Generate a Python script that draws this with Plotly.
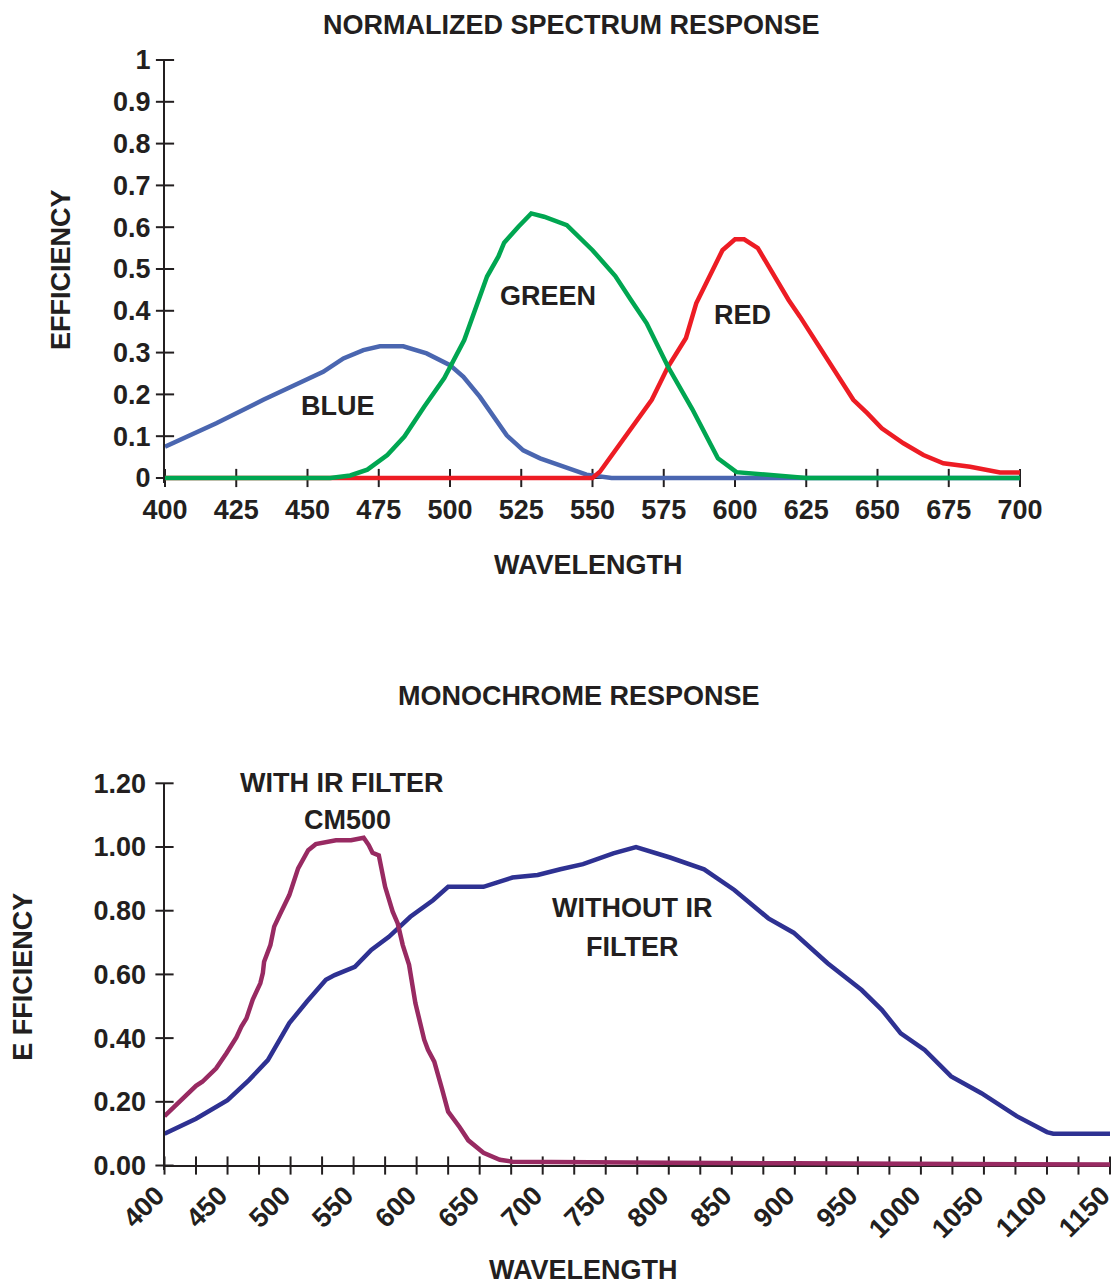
import plotly.graph_objects as go

# ---------------- DATA: Normalized spectrum response ----------------
TOP_X_TICKS = [400, 425, 450, 475, 500, 525, 550, 575, 600, 625, 650, 675, 700]
TOP_Y_TICKS = [0, 0.1, 0.2, 0.3, 0.4, 0.5, 0.6, 0.7, 0.8, 0.9, 1]
TOP_Y_LABELS = ["0", "0.1", "0.2", "0.3", "0.4", "0.5", "0.6", "0.7", "0.8", "0.9", "1"]

BLUE_NM = [400, 418, 434.5, 448.5, 455.5, 462.6, 469.6, 475.4, 483.6, 491.8, 500, 504.7,
           510.5, 519.9, 525.7, 531.6, 540.9, 547.9, 556.7, 575, 600, 625, 650, 675, 700]
BLUE_EFF = [0.075, 0.131, 0.187, 0.23, 0.254, 0.286, 0.306, 0.315, 0.315, 0.298, 0.27, 0.242,
            0.194, 0.102, 0.066, 0.047, 0.025, 0.008, 0, 0, 0, 0, 0, 0, 0]

GREEN_NM = [400, 425, 450, 458, 465, 471, 478, 484, 491, 498, 505, 510, 513, 517, 519, 524,
            528.5, 533, 539, 541, 550, 558, 563.5, 569, 576.5, 585, 594, 600.5, 625, 650, 675, 700]
GREEN_EFF = [0, 0, 0, 0, 0.006, 0.02, 0.055, 0.099, 0.171, 0.239, 0.33, 0.426, 0.482, 0.53,
             0.563, 0.601, 0.633, 0.625, 0.611, 0.605, 0.545, 0.483, 0.426, 0.37, 0.266, 0.165,
             0.047, 0.014, 0, 0, 0, 0]

RED_NM = [400, 425, 450, 475, 500, 525, 550, 552.6, 565.5, 570.8, 576.5, 582.8, 586.4, 595.6,
          600, 603.2, 608, 618.8, 622.8, 635.3, 641.5, 646.4, 651.5, 659.1, 666.1, 673.1,
          682.5, 693, 700]
RED_EFF = [0, 0, 0, 0, 0, 0, 0, 0.015, 0.135, 0.187, 0.266, 0.335, 0.418, 0.545, 0.571, 0.571,
           0.55, 0.426, 0.386, 0.25, 0.187, 0.155, 0.119, 0.083, 0.055, 0.035, 0.027, 0.013, 0.013]

# ---------------- DATA: Monochrome response ----------------
BOT_X_TICKS = list(range(400, 1151, 25))
BOT_X_LABEL_VALS = list(range(400, 1151, 50))
BOT_Y_TICKS = [0, 0.2, 0.4, 0.6, 0.8, 1.0, 1.2]

WITHOUT_NM = [400, 425, 450, 467, 482, 499, 513, 528, 535, 551, 564, 578, 595, 613, 625, 653,
              676, 696, 714, 732, 756, 774, 801, 820, 828, 852, 879, 899, 926, 953, 969, 984,
              1003, 1024, 1048, 1076, 1100, 1105, 1150]
WITHOUT_EFF = [0.10, 0.147, 0.205, 0.268, 0.331, 0.447, 0.515, 0.583, 0.598, 0.624, 0.677,
               0.718, 0.781, 0.833, 0.875, 0.875, 0.904, 0.912, 0.93, 0.946, 0.98, 1.0, 0.967,
               0.94, 0.93, 0.865, 0.776, 0.731, 0.635, 0.551, 0.489, 0.415, 0.363, 0.28, 0.227,
               0.155, 0.105, 0.10, 0.10]

WITH_NM = [400, 412, 425, 430, 441, 449, 457, 461, 465, 470, 476, 478, 479, 484, 487, 492, 499,
           506, 514, 520, 536, 548, 558, 562, 565, 570, 575, 581, 585, 589, 594, 599, 606, 609,
           614, 620, 625, 634, 641, 653, 666, 676, 700, 800, 900, 1000, 1100, 1150]
WITH_EFF = [0.155, 0.203, 0.25, 0.263, 0.305, 0.352, 0.402, 0.436, 0.462, 0.521, 0.572, 0.604,
            0.64, 0.692, 0.75, 0.792, 0.849, 0.933, 0.99, 1.009, 1.021, 1.021, 1.029, 1.006,
            0.982, 0.974, 0.875, 0.797, 0.76, 0.692, 0.63, 0.51, 0.395, 0.363, 0.326, 0.242,
            0.169, 0.121, 0.079, 0.04, 0.018, 0.012, 0.011, 0.009, 0.007, 0.005, 0.003, 0.003]

# ---------------- STYLE / LAYOUT ----------------
PAGE_W, PAGE_H = 1119, 1286
OFF = 8                      # default body margin of the html page
W, H = PAGE_W - OFF, PAGE_H - OFF
INK = "#231f20"
FONT = "Liberation Sans, Arial, sans-serif"
FS = 27


def px(x):   # page pixel -> paper x
    return (x - OFF) / W


def py(y):   # page pixel -> paper y
    return 1 - (y - OFF) / H


def bold(size=FS, color=INK):
    return dict(family=FONT, size=size, color=color, weight="bold")


fig = go.Figure()


def tick_marks(xs, ys, xa, ya, symbol):
    fig.add_trace(go.Scatter(
        x=xs, y=ys, xaxis=xa, yaxis=ya, mode="markers", cliponaxis=False,
        hoverinfo="skip", showlegend=False,
        marker=dict(symbol=symbol, size=13, color=INK, line=dict(color=INK, width=2))))


# tick marks crossing the axes
tick_marks(TOP_X_TICKS, [0] * len(TOP_X_TICKS), "x", "y", "line-ns")
tick_marks([TOP_X_TICKS[0]] * len(TOP_Y_TICKS), TOP_Y_TICKS, "x", "y", "line-ew")
tick_marks(BOT_X_TICKS, [0] * len(BOT_X_TICKS), "x2", "y2", "line-ns")
tick_marks([BOT_X_TICKS[0]] * len(BOT_Y_TICKS), BOT_Y_TICKS, "x2", "y2", "line-ew")

# Top chart curves
for xs, ys, col in [(BLUE_NM, BLUE_EFF, "#4a66b0"),
                    (RED_NM, RED_EFF, "#ed1c24"),
                    (GREEN_NM, GREEN_EFF, "#00a651")]:
    fig.add_trace(go.Scatter(x=xs, y=ys, xaxis="x", yaxis="y", mode="lines",
                             line=dict(color=col, width=4.5), showlegend=False))

# Bottom chart curves
fig.add_trace(go.Scatter(x=WITHOUT_NM, y=WITHOUT_EFF, xaxis="x2", yaxis="y2", mode="lines",
                         line=dict(color="#2e3192", width=4.5), showlegend=False))
fig.add_trace(go.Scatter(x=WITH_NM, y=WITH_EFF, xaxis="x2", yaxis="y2", mode="lines",
                         line=dict(color="#982a62", width=4.5), showlegend=False))

axis_common = dict(showgrid=False, ticks="", tickfont=bold(), fixedrange=True,
                   automargin=False, ticklabeloverflow="allow")

fig.update_layout(
    template="none",
    width=W, height=H,
    margin=dict(l=0, r=0, t=0, b=0, pad=0),
    paper_bgcolor="white", plot_bgcolor="white",
    showlegend=False,
    xaxis=dict(domain=[px(165), px(1020)], range=[400, 700], anchor="y",
               tickvals=TOP_X_TICKS, ticktext=[str(v) for v in TOP_X_TICKS],
               showline=False, zeroline=False, ticklabelstandoff=8, **axis_common),
    yaxis=dict(domain=[py(483), py(60)], range=[-0.012, 1.0], anchor="x",
               tickvals=TOP_Y_TICKS, ticktext=TOP_Y_LABELS,
               showline=True, linecolor=INK, linewidth=2,
               zeroline=True, zerolinecolor=INK, zerolinewidth=2,
               ticklabelstandoff=7, **axis_common),
    xaxis2=dict(domain=[px(164.5), px(1110)], range=[400, 1150], anchor="y2",
                tickvals=BOT_X_LABEL_VALS, ticktext=[str(v) for v in BOT_X_LABEL_VALS],
                tickangle=-45, showline=False, zeroline=False, ticklabelstandoff=3,
                ticklabelshift=-8, **axis_common),
    yaxis2=dict(domain=[py(1170.3), py(783.3)], range=[-0.015, 1.2], anchor="x2",
                tickvals=BOT_Y_TICKS, tickformat=".2f",
                showline=True, linecolor=INK, linewidth=2,
                zeroline=True, zerolinecolor=INK, zerolinewidth=2,
                ticklabelstandoff=11, **axis_common),
)

annots = [
    # titles and axis titles (page pixel positions)
    dict(text="NORMALIZED SPECTRUM RESPONSE", x=px(571), y=py(24.5), xref="paper", yref="paper"),
    dict(text="WAVELENGTH", x=px(588.5), y=py(565), xref="paper", yref="paper"),
    dict(text="EFFICIENCY", x=px(61), y=py(270), xref="paper", yref="paper", textangle=-90),
    dict(text="MONOCHROME RESPONSE", x=px(579), y=py(696), xref="paper", yref="paper"),
    dict(text="WAVELENGTH", x=px(583.7), y=py(1270), xref="paper", yref="paper"),
    dict(text="E FFICIENCY", x=px(23), y=py(976.7), xref="paper", yref="paper", textangle=-90),
    dict(text="WITH IR FILTER", x=px(341.5), y=py(782.5), xref="paper", yref="paper"),
    # curve labels (data coordinates)
    dict(text="BLUE", x=460.6, y=0.1715, xref="x", yref="y"),
    dict(text="GREEN", x=534.4, y=0.435, xref="x", yref="y"),
    dict(text="RED", x=602.8, y=0.39, xref="x", yref="y"),
    dict(text="CM500", x=545.1, y=1.086, xref="x2", yref="y2"),
    dict(text="WITHOUT IR", x=770.6, y=0.808, xref="x2", yref="y2"),
    dict(text="FILTER", x=770.5, y=0.687, xref="x2", yref="y2"),
]
for a in annots:
    a.update(showarrow=False, font=bold(), xanchor="center", yanchor="middle")
fig.update_layout(annotations=annots)

fig.write_html("out.html")
